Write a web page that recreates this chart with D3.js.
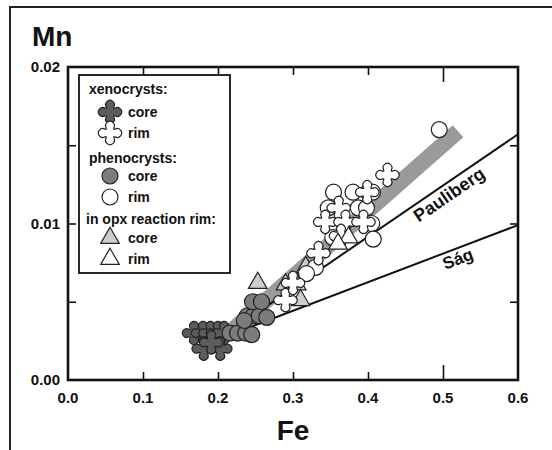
<!DOCTYPE html>
<html><head><meta charset="utf-8">
<script src="https://cdn.jsdelivr.net/npm/d3@7"></script>
<style>body{margin:0;background:#fff}svg{display:block}text{font-family:"Liberation Sans",Arial,sans-serif;font-weight:bold;fill:#111}</style>
</head><body>
<script>
// ---- data ----
const xTicks = [0.0, 0.1, 0.2, 0.3, 0.4, 0.5, 0.6];
const yTicks = [0.00, 0.01, 0.02];
const yMinor = [0.005, 0.01, 0.015];
const xenoCore = [[0.168,0.0030],[0.180,0.0030],[0.190,0.0030],[0.200,0.0030],[0.208,0.0030],[0.181,0.0020],[0.203,0.0020],[0.191,0.0024]];
const xenoRim = [[0.290,0.0051],[0.334,0.0081],[0.426,0.0131],[0.399,0.0120],[0.361,0.0110],[0.343,0.0101],[0.370,0.0101],[0.394,0.0101],[0.364,0.0092],[0.300,0.0062]];
const phenoCore = [[0.216,0.0030],[0.226,0.0030],[0.237,0.0030],[0.245,0.0029],[0.239,0.0041],[0.247,0.0041],[0.255,0.0041],[0.265,0.0040],[0.246,0.0050],[0.258,0.0050],[0.235,0.0038]];
const phenoRim = [[0.495,0.0160],[0.354,0.0120],[0.380,0.0120],[0.400,0.0120],[0.406,0.0120],[0.347,0.0110],[0.387,0.0110],[0.398,0.0110],[0.405,0.0100],[0.353,0.0091],[0.407,0.0090],[0.330,0.0072],[0.318,0.0068],[0.368,0.0100]];
const triCore = [[0.253,0.0062],[0.290,0.0061],[0.305,0.0061],[0.317,0.0072],[0.310,0.0051]];
const triRim = [[0.374,0.0091],[0.360,0.0087]];
const band = [[0.215,0.0030],[0.520,0.0159]];
const pauliberg = [[0.200,0.0026],[0.600,0.0157]];
const sag = [[0.200,0.0026],[0.600,0.0099]];
const legendRows = [
  {type:"head", label:"xenocrysts:"},
  {type:"xenoCore", label:"core"},
  {type:"xenoRim", label:"rim"},
  {type:"head", label:"phenocrysts:"},
  {type:"phenoCore", label:"core"},
  {type:"phenoRim", label:"rim"},
  {type:"head", label:"in opx reaction rim:"},
  {type:"triCore", label:"core"},
  {type:"triRim", label:"rim"}
];

// ---- layout ----
const W = 552, H = 450;
const L = 68, R = 518, T = 67, B = 380;
const svg = d3.select("body").append("svg").attr("width", W).attr("height", H);
const x = d3.scaleLinear().domain([0, 0.6]).range([L, R]);
const y = d3.scaleLinear().domain([0, 0.02]).range([B, T]);

// outer frame
svg.append("path").attr("d", `M10,${H} L10,7 L${W},7`).attr("fill","none").attr("stroke","#222").attr("stroke-width",2);

// band + lines
const lineGen = d3.line().x(d => x(d[0])).y(d => y(d[1]));
svg.append("path").attr("d", lineGen(band)).attr("stroke","#9a9a9a").attr("stroke-width",16).attr("fill","none").attr("stroke-linecap","butt");
svg.append("path").attr("d", lineGen(pauliberg)).attr("stroke","#111").attr("stroke-width",2).attr("fill","none");
svg.append("path").attr("d", lineGen(sag)).attr("stroke","#111").attr("stroke-width",2).attr("fill","none");

// line labels (below their lines)
function lineLabel(seg, fe, text, off, fs){
  const p0 = [x(seg[0][0]), y(seg[0][1])], p1 = [x(seg[1][0]), y(seg[1][1])];
  const ang = Math.atan2(p1[1]-p0[1], p1[0]-p0[0]) * 180 / Math.PI;
  const px = x(fe), py = p0[1] + (p1[1]-p0[1]) * (px - p0[0]) / (p1[0]-p0[0]);
  svg.append("text").attr("transform", `translate(${px},${py}) rotate(${ang}) translate(0,${off})`)
    .attr("text-anchor","middle").attr("font-size",fs).text(text);
}
lineLabel(pauliberg, 0.50, "Pauliberg", 17, 18);
lineLabel(sag, 0.515, "Ság", 16, 17);

// markers
function crossPath(s){
  const a = 3.8*s, Lr = 8.8*s, r = 4.4*s;
  const e = Lr - a;
  return `M${-a},${-a} L${-a},${-e} A${r},${r} 0 1 1 ${a},${-e} L${a},${-a} L${e},${-a} A${r},${r} 0 1 1 ${e},${a} L${a},${a} L${a},${e} A${r},${r} 0 1 1 ${-a},${e} L${-a},${a} L${-e},${a} A${r},${r} 0 1 1 ${-e},${-a} Z`;
}
const triPath = d3.symbol().type(d3.symbolTriangle).size(150)();
const circPath = d3.symbol().type(d3.symbolCircle).size(200)();
const styles = {
  xenoCore:{d:crossPath(1), fill:"#5c5c5c"},
  xenoRim:{d:crossPath(1), fill:"#fff"},
  phenoCore:{d:circPath, fill:"#7c7c7c"},
  phenoRim:{d:circPath, fill:"#fff"},
  triCore:{d:triPath, fill:"#cdcdcd"},
  triRim:{d:triPath, fill:"#fff"}
};
function drawSet(data, key){
  svg.append("g").selectAll("path").data(data).join("path")
    .attr("d", styles[key].d).attr("transform", d => `translate(${x(d[0])},${y(d[1])})`)
    .attr("fill", styles[key].fill).attr("stroke","#222").attr("stroke-width",1.2);
}
drawSet(xenoCore, "xenoCore");
drawSet(phenoCore, "phenoCore");
drawSet(triCore, "triCore");
drawSet(phenoRim, "phenoRim");
drawSet(xenoRim, "xenoRim");
drawSet(triRim, "triRim");

// axes (inward ticks on all four sides)
const inner = [0.1,0.2,0.3,0.4,0.5];
const xb = svg.append("g").attr("transform",`translate(0,${B})`).call(d3.axisTop(x).tickValues(inner).tickSize(8).tickFormat(""));
const xt = svg.append("g").attr("transform",`translate(0,${T})`).call(d3.axisBottom(x).tickValues(inner).tickSize(8).tickFormat(""));
const yl = svg.append("g").attr("transform",`translate(${L},0)`).call(d3.axisRight(y).tickValues(yMinor).tickSize(8).tickFormat(""));
const yr = svg.append("g").attr("transform",`translate(${R},0)`).call(d3.axisLeft(y).tickValues(yMinor).tickSize(8).tickFormat(""));
[xb,xt,yl,yr].forEach(g => { g.select(".domain").remove(); g.selectAll("line").attr("stroke","#111").attr("stroke-width",1.6); });
xb.selectAll(".tick").filter(d => d === 0.5).select("line").attr("y2", -15);
xt.selectAll(".tick").filter(d => d === 0.5).select("line").attr("y2", 15);
svg.append("rect").attr("x",L).attr("y",T).attr("width",R-L).attr("height",B-T).attr("fill","none").attr("stroke","#111").attr("stroke-width",2.6);

// tick labels
svg.append("g").selectAll("text").data(xTicks).join("text")
  .attr("x", d => x(d)).attr("y", B + 23).attr("text-anchor","middle").attr("font-size",15)
  .text(d => d3.format(".1f")(d));
svg.append("g").selectAll("text").data(yTicks).join("text")
  .attr("x", L - 8).attr("y", d => y(d) + 5).attr("text-anchor","end").attr("font-size",15)
  .text(d => d3.format(".2f")(d));

// axis titles
svg.append("text").attr("x",32).attr("y",46).attr("font-size",28).text("Mn");
svg.append("text").attr("x",x(0.3)).attr("y",440).attr("text-anchor","middle").attr("font-size",28).text("Fe");

// legend
const lg = svg.append("g");
lg.append("rect").attr("x",79).attr("y",75).attr("width",151).attr("height",198).attr("fill","#fff").attr("stroke","#111").attr("stroke-width",1.8);
const rowY = [89,112,133,158,176,197,219,238,259];
legendRows.forEach((r,i) => {
  if (r.type === "head") {
    lg.append("text").attr("x", i === 6 ? 86 : 89).attr("y", rowY[i] + 5).attr("font-size",14).text(r.label);
  } else {
    const st = styles[r.type];
    lg.append("path").attr("d", st.d).attr("transform",`translate(110,${rowY[i]})`).attr("fill",st.fill).attr("stroke","#222").attr("stroke-width",1.2);
    lg.append("text").attr("x",128).attr("y",rowY[i] + 5).attr("font-size",14).text(r.label);
  }
});
</script>
</body></html>
